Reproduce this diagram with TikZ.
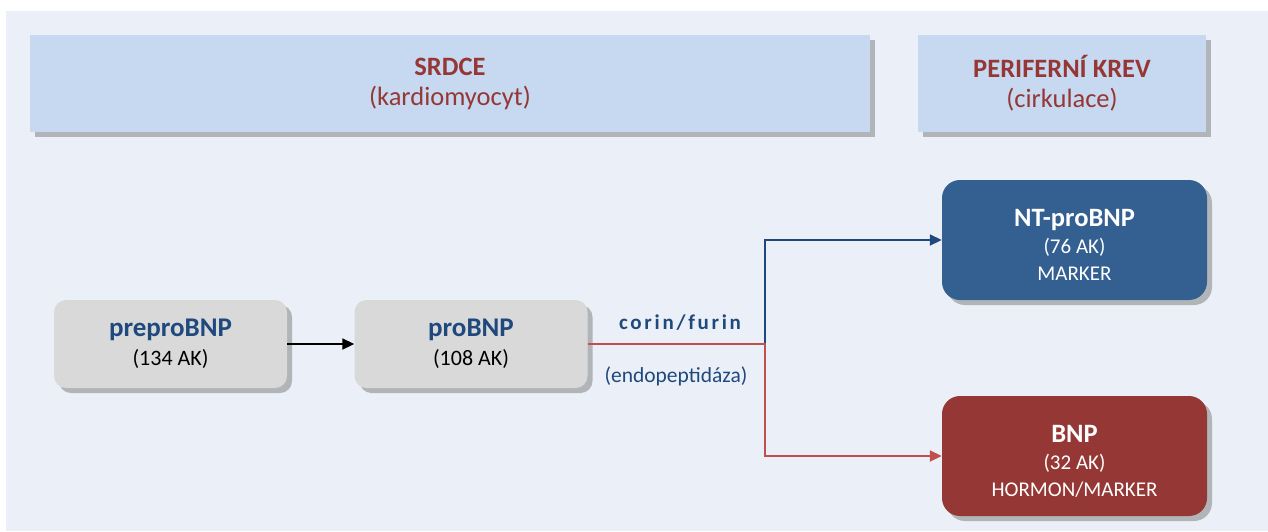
\documentclass[tikz,border=0pt]{standalone}
\usepackage{fontspec}
\setmainfont{Carlito}
\usetikzlibrary{arrows.meta,shadows}
\definecolor{bgc}{HTML}{EBF0F8}
\definecolor{headfill}{HTML}{C6D9F0}
\definecolor{shadowc}{HTML}{B2B5B8}
\definecolor{grayfill}{HTML}{D9D9D9}
\definecolor{ntfill}{HTML}{345F91}
\definecolor{bnpfill}{HTML}{953735}
\definecolor{txtblue}{HTML}{1F497D}
\definecolor{txtred}{HTML}{953735}
\definecolor{linered}{HTML}{C0504D}
\newcommand{\fs}[1]{\fontsize{#1}{#1}\selectfont}
\begin{document}
\begin{tikzpicture}[x=1pt,y=-1pt,
  shad/.style={drop shadow={shadow xshift=5pt,shadow yshift=-5pt,fill=shadowc,opacity=1}},
  headbox/.style={rectangle,fill=headfill,shad,minimum height=97pt,inner sep=0pt,align=center,text=txtred,font=\fontsize{26.5}{30}\selectfont},
  graybox/.style={rectangle,rounded corners=12pt,fill=grayfill,shad,minimum width=233pt,minimum height=88pt,inner sep=0pt,align=center,font=\fontsize{22}{29}\selectfont},
  colbox/.style={rectangle,rounded corners=18pt,shad,minimum width=265pt,minimum height=120pt,inner sep=0pt,align=center,text=white,font=\fontsize{21}{27}\selectfont},
  conn/.style={line width=1.8pt},
  tip/.style={-{Triangle[length=12pt,width=11pt]}}
]
\useasboundingbox (0,0) rectangle (1268,531);
\fill[bgc] (6,11) rectangle (1268,531);

\node[headbox,minimum width=840pt] (srdce) at (450,83.5)
  {\textbf{SRDCE}\\(kardiomyocyt)};
\node[headbox,minimum width=288pt] (krev) at (1062,83.5)
  {\textbf{PERIFERNÍ KREV}\\(cirkulace)};

\node[graybox] (pre) at (170.5,344)
  {{\fs{27}\bfseries\color{txtblue}preproBNP}\\(134 AK)};
\node[graybox] (pro) at (471,344)
  {{\fs{27}\bfseries\color{txtblue}proBNP}\\(108 AK)};

\node[colbox,fill=ntfill] (nt) at (1074.5,240)
  {\rule{0pt}{27pt}{\fs{26.5}\bfseries NT-proBNP}\\(76 AK)\\MARKER};
\node[colbox,fill=bnpfill] (bnp) at (1074.5,456)
  {\rule{0pt}{27pt}{\fs{26.5}\bfseries BNP}\\(32 AK)\\HORMON/MARKER};

\coordinate (split) at (765,344);

\draw[conn,tip,black] (pre.east) -- (pro.west);
\draw[conn,tip,txtblue] (split) |- (nt.west);
\draw[conn,tip,linered] (pro.east) -- (split) |- (bnp.west);

\node[text=txtblue,inner sep=0pt] (corin) at (680,323)
  {\fs{21}\bfseries\addfontfeature{LetterSpace=13}corin/furin};
\node[text=txtblue,inner sep=0pt] (endo) at (676,376)
  {\fs{21.5}(endopeptidáza)};
\end{tikzpicture}
\end{document}
